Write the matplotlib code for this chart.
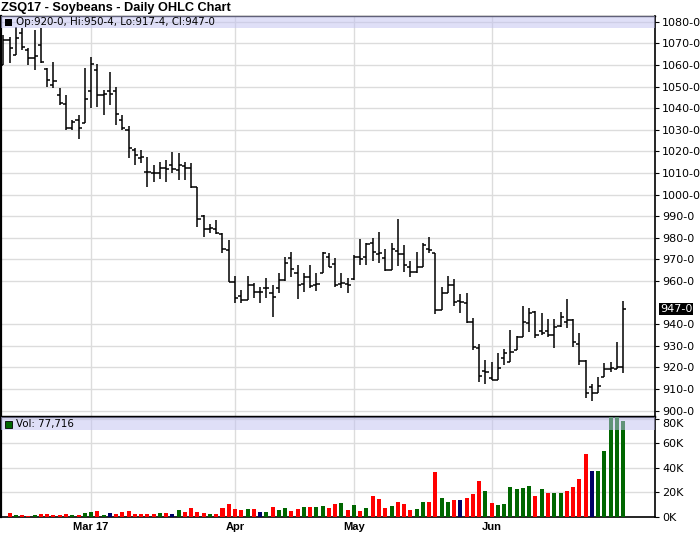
import numpy as np
import pandas as pd
import matplotlib
matplotlib.use('Agg')
import matplotlib.pyplot as plt
import matplotlib.transforms as mtransforms
from matplotlib.patches import Rectangle

# trading days Feb 8 - Jun 30 2017 (Presidents day, Good Friday, Memorial day off)
holidays = pd.to_datetime(['2017-02-20', '2017-04-14', '2017-05-29'])
days = pd.bdate_range('2017-02-08', '2017-06-30')
days = days[~days.isin(holidays)]

opens = [1060, 1071.5, 1064.5, 1075, 1067, 1063, 1069, 1058, 1050.5, 1046,
         1042, 1031, 1034.5, 1033, 1048, 1057.5, 1046, 1048, 1048, 1034.5,
         1030, 1020.5, 1017, 1010.5, 1010, 1010, 1012.5, 1013.5, 1011.5, 1013,
         1012.5, 1003.5, 990, 984, 984, 981.5, 974.5, 959.5, 953, 951,
         958, 955, 956.5, 954.5, 956.5, 960.5, 970.5, 963.5, 958.5, 962,
         958, 963.5, 971, 968, 958.5, 958.5, 961, 971, 971, 977.5,
         972.5, 970.5, 965, 974, 972.5, 966.5, 964, 966.5, 975, 973,
         946.5, 954.5, 958, 950.5, 950, 941, 929, 918.5, 915, 914,
         924.5, 922.5, 928, 934, 940.5, 945.5, 937, 937, 935, 939,
         941, 942, 931, 923, 911, 908, 915.5, 919, 919, 920]
highs = [1074, 1073, 1077.5, 1077, 1068, 1076, 1077, 1058.5, 1061.5, 1049.5,
         1046, 1034.5, 1037, 1058.5, 1063.5, 1060.5, 1048.5, 1056.5, 1050, 1037,
         1031.5, 1021.5, 1020.5, 1017.5, 1013.5, 1015, 1016, 1019.5, 1019, 1015,
         1014.5, 1003.5, 990.5, 986.5, 988, 982, 979, 962.5, 956, 962.5,
         959, 957, 961.5, 958, 963.5, 971, 973.5, 967.5, 963.5, 967.5,
         963.5, 973.5, 973, 970.5, 963.5, 961.5, 972, 979.5, 977.5, 980,
         982.5, 975, 977.5, 988.5, 976.5, 969, 973.5, 977.5, 980.5, 973,
         957, 962.5, 961, 954, 954.5, 943, 931, 923.5, 922.5, 926.5,
         928.5, 937.5, 934.5, 948.5, 947.5, 946, 945, 942.5, 942.5, 945.5,
         951.5, 942.5, 936, 923.5, 912.5, 915.5, 922, 922.5, 931.5, 950.5]
lows = [1060, 1061, 1064.5, 1067, 1060, 1057.5, 1061, 1050, 1049.5, 1041.5,
        1030, 1030, 1025.5, 1033, 1040, 1040.5, 1037, 1041.5, 1032, 1030,
        1017, 1013.5, 1014.5, 1003.5, 1006, 1007, 1006, 1010, 1006.5, 1006.5,
        1003, 985, 980.5, 982, 981.5, 973, 959.5, 950, 950, 951,
        952, 950, 952, 943.5, 954.5, 960, 962, 951.5, 955, 956.5,
        955.5, 963.5, 966.5, 957, 956.5, 954.5, 960.5, 967.5, 967.5, 969,
        968.5, 964.5, 965, 967, 964, 962, 963.5, 966.5, 973, 944.5,
        946.5, 954.5, 948.5, 945, 940.5, 928, 913, 912.5, 914, 914,
        921, 922.5, 928, 934, 936.5, 933.5, 935, 934, 929, 938.5,
        938, 929.5, 921, 906, 904.5, 908, 915.5, 918, 919, 917.5]
closes = [1071.5, 1068, 1072.5, 1068.5, 1063, 1064, 1061.5, 1053, 1052.5, 1042.5,
          1031, 1033.5, 1031, 1044, 1060.5, 1046, 1046.5, 1046.5, 1037.5, 1031,
          1021.5, 1018.5, 1017.5, 1010.5, 1010, 1012.5, 1012, 1012, 1013.5, 1012.5,
          1003.5, 988.5, 984, 984.5, 982, 975, 959.5, 952, 951, 958,
          955, 955, 956.5, 952.5, 960.5, 968.5, 965.5, 958, 962, 957.5,
          958.5, 973, 966.5, 958, 959, 958, 971, 970, 977, 973.5,
          973, 965, 975, 972.5, 967.5, 964, 966.5, 976.5, 974.5, 946.5,
          954.5, 958, 950.25, 950.25, 941, 929.5, 916, 918, 914, 919.5,
          926.5, 927, 934, 941, 945, 935, 936, 935, 938.5, 943.5,
          942, 931.5, 923, 908, 908, 911.5, 919, 919.5, 920.25, 947]
# volume in thousands of contracts
volume = [0, 3.2, 1.6, 1.6, 0.8, 1.6, 2.4, 2.4, 1.6, 1.6,
          2.4, 1.6, 1.6, 3.2, 4.0, 4.8, 1.6, 3.2, 2.4, 4.0,
          4.8, 2.4, 2.4, 2.4, 2.4, 3.2, 3.2, 2.4, 5.3, 4.0,
          7.2, 4.0, 3.2, 2.4, 2.4, 7.2, 10.4, 6.1, 5.3, 6.1,
          6.1, 4.0, 4.0, 8.0, 5.3, 7.0, 4.8, 6.1, 8.0, 8.0,
          8.0, 8.8, 7.2, 10.4, 11.2, 5.6, 9.4, 4.6, 6.7, 16.6,
          14.7, 6.7, 8.6, 12.0, 10.7, 5.3, 5.9, 11.7, 11.7, 36.6,
          15.0, 11.7, 13.4, 13.9, 15.0, 18.2, 29.4, 20.6, 11.0, 9.4,
          10.2, 24.6, 22.2, 23.0, 25.4, 16.6, 22.2, 19.0, 19.0, 19.0,
          20.6, 23.8, 31.0, 50.7, 37.4, 37.4, 53.6, 95.0, 98.0, 77.716]

W, H = 700, 536
def box(x0, y0, x1, y1):
    return [x0 / W, 1 - y1 / H, (x1 - x0) / W, (y1 - y0) / H]

fig = plt.figure(figsize=(7, 5.36), dpi=100)
ax = fig.add_axes(box(1, 16, 655, 416.7))
axv = fig.add_axes(box(1, 416.7, 655, 516.7), sharex=ax)

x = np.arange(len(days))
grid_c = '#dcdcdc'

# price OHLC bars
ax.vlines(x, lows, highs, color='black', lw=1.1, zorder=3)
ax.hlines(opens, x - 0.5, x, color='black', lw=1.1, zorder=3)
ax.hlines(closes, x, x + 0.5, color='black', lw=1.1, zorder=3)

# volume colored by close change
vcol = ['#ff0000']
for i in range(1, len(closes)):
    if closes[i] > closes[i - 1]:
        vcol.append('#006600')
    elif closes[i] < closes[i - 1]:
        vcol.append('#ff0000')
    else:
        vcol.append('#000066')
axv.bar(x, volume, width=0.64, color=vcol, zorder=3)

ax.set_xlim(-0.383, 104.09)
ax.set_ylim(897.13, 1082.64)
axv.set_ylim(0, 81.5)

# month gridlines
mstart = [i for i in range(1, len(days)) if days[i].month != days[i - 1].month]
mlab = [days[mstart[0]].strftime('%b %y')] + [days[i].strftime('%b') for i in mstart[1:]]

for a in (ax, axv):
    a.set_axisbelow(True)
    a.set_xticks(mstart)
    a.grid(True, color=grid_c, lw=1.0)
    a.yaxis.tick_right()
    a.tick_params(axis='y', direction='out', length=3, width=0.8, pad=2, labelsize=8)
    a.tick_params(axis='x', length=0)
    for s in a.spines.values():
        s.set_color('black')
    a.spines['left'].set_linewidth(1.6)
    a.spines['right'].set_linewidth(1.2)

ax.spines['top'].set_linewidth(1.0)
ax.spines['bottom'].set_linewidth(1.6)
axv.spines['top'].set_linewidth(1.6)
axv.spines['bottom'].set_linewidth(1.2)

pticks = [t for t in range(900, 1081, 10) if t != 950]
ax.set_yticks(pticks)
ax.set_yticklabels(['%d-0' % t for t in pticks])
ax.tick_params(axis='x', labelbottom=False)

axv.set_yticks([0, 20, 40, 60, 80])
axv.set_yticklabels(['0K', '20K', '40K', '60K', '80K'])
axv.get_yticklabels()[-1].set_va('top')
axv.set_xticklabels(mlab, fontsize=8, fontweight='bold', family='Liberation Sans')
axv.tick_params(axis='x', pad=4)

# last price marker on axis
tr = mtransforms.blended_transform_factory(ax.transAxes, ax.transData)
ax.text(1.0 + 5 / 654, closes[-1], '%d-0' % closes[-1], transform=tr, fontsize=8,
        color='white', va='center', ha='left',
        bbox=dict(fc='black', ec='none', pad=0.8), clip_on=False)

# header bands
ph = 400.7
ax.add_patch(Rectangle((0, 1 - 12 / ph), 1, 12 / ph, transform=ax.transAxes,
                       fc='#c1c1f1', alpha=0.5, lw=0, zorder=5))
ax.add_patch(Rectangle((4 / 654, 1 - 10 / ph), 7 / 654, 7 / ph, transform=ax.transAxes,
                       fc='black', lw=0, zorder=6))
ax.text(15 / 654, 1 - 6.2 / ph, 'Op:920-0, Hi:950-4, Lo:917-4, Cl:947-0',
        transform=ax.transAxes, fontsize=7.4, va='center', ha='left', zorder=6)

axv.add_patch(Rectangle((0, 1 - 13.5 / 100), 1, 13.5 / 100, transform=axv.transAxes,
                        fc='#c1c1f1', alpha=0.5, lw=0, zorder=5))
axv.add_patch(Rectangle((4 / 654, 1 - 11 / 100), 7 / 654, 7 / 100, transform=axv.transAxes,
                        fc='#006600', ec='black', lw=0.6, zorder=6))
axv.text(15 / 654, 1 - 7 / 100, 'Vol: 77,716', transform=axv.transAxes,
         fontsize=7.4, va='center', ha='left', zorder=6)

fig.text(1 / W, 1 - 8 / H, 'ZSQ17 - Soybeans - Daily OHLC Chart', fontsize=9.2,
         fontweight='bold', family='Liberation Sans', va='center', ha='left')

fig.savefig('out.png', dpi=100)
